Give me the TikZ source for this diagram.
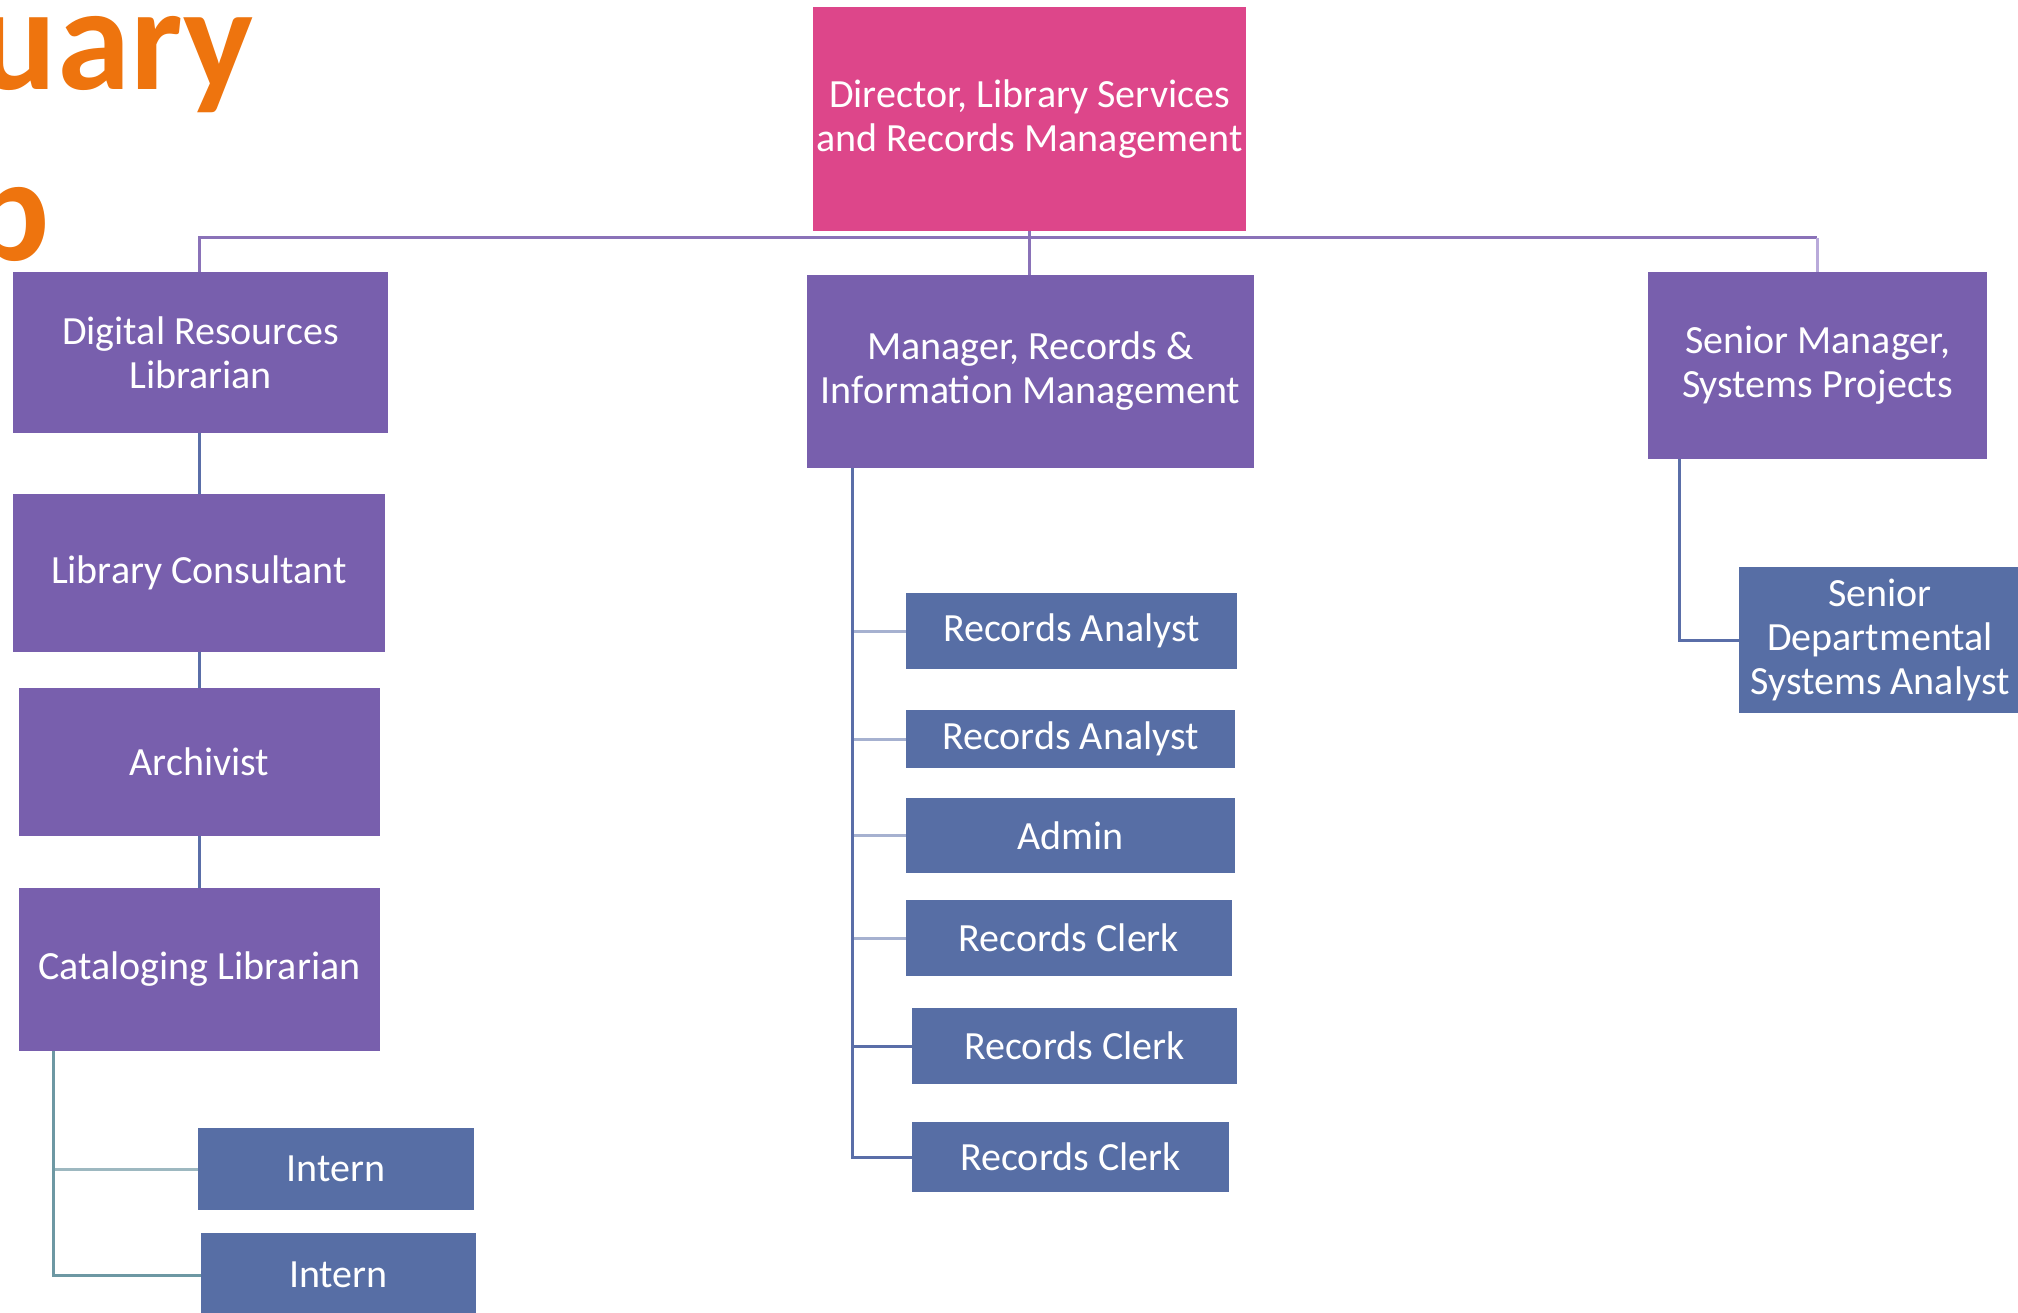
\documentclass[tikz,border=0pt]{standalone}
\usepackage{fontspec}
\setmainfont{Carlito}
\definecolor{pinkbox}{RGB}{221,70,138}
\definecolor{purplebox}{RGB}{120,95,173}
\definecolor{bluebox}{RGB}{87,110,165}
\definecolor{titleorange}{RGB}{238,116,14}
\definecolor{busline}{RGB}{138,114,184}
\definecolor{lightpurple}{RGB}{185,170,218}
\definecolor{blueline}{RGB}{90,110,168}
\definecolor{lightblue}{RGB}{166,177,208}
\definecolor{tealline}{RGB}{109,152,163}
\definecolor{lightteal}{RGB}{157,184,192}
\tikzset{
  boxbase/.style={inner sep=0pt, outer sep=0pt, text=white, align=center,
    font=\fontsize{40}{44}\selectfont},
  pinkstyle/.style={boxbase, fill=pinkbox},
  purplestyle/.style={boxbase, fill=purplebox},
  bluestyle/.style={boxbase, fill=bluebox},
  conn/.style={line width=3pt},
  titletext/.style={inner sep=0pt, text=titleorange, font=\fontsize{148}{150}\selectfont\bfseries}
}
\begin{document}
\begin{tikzpicture}[x=1pt,y=-1pt]
\useasboundingbox (0,0) rectangle (2018,1313);
\clip (0,0) rectangle (2018,1313);
\fill[white] (0,0) rectangle (2018,1313);

% title fragments
\node[titletext, anchor=base east] (t1) at (254,90) {uary};
\node[titletext, anchor=base east] (t2) at (50,261) {p};

% boxes
\node[pinkstyle, minimum width=433pt, minimum height=224pt] (dir) at (1029.5,119) {Director, Library Services\\and Records Management};

\node[purplestyle, minimum width=375pt, minimum height=161pt] (dig) at (200.5,352.5) {Digital Resources\\Librarian};
\node[purplestyle, minimum width=372pt, minimum height=158pt] (lib) at (199,573) {Library Consultant};
\node[purplestyle, minimum width=361pt, minimum height=148pt] (arc) at (199.5,762) {Archivist};
\node[purplestyle, minimum width=361pt, minimum height=163pt] (cat) at (199.5,969.5) {Cataloging Librarian};
\node[bluestyle, minimum width=276pt, minimum height=82pt] (int1) at (336,1169) {Intern};
\node[bluestyle, minimum width=275pt, minimum height=84pt] (int2) at (338.5,1275) {Intern};

\node[purplestyle, minimum width=447pt, minimum height=193pt] (mgr) at (1030.5,371.5) {Manager, Records \&\\Information Management};
\node[bluestyle, minimum width=331pt, minimum height=76pt] (ra1) at (1071.5,631) {Records Analyst};
\node[bluestyle, minimum width=329pt, minimum height=58pt] (ra2) at (1070.5,739) {Records Analyst};
\node[bluestyle, minimum width=329pt, minimum height=75pt] (adm) at (1070.5,835.5) {Admin};
\node[bluestyle, minimum width=326pt, minimum height=76pt] (clk1) at (1069,938) {Records Clerk};
\node[bluestyle, minimum width=325pt, minimum height=76pt] (clk2) at (1074.5,1046) {Records Clerk};
\node[bluestyle, minimum width=317pt, minimum height=70pt] (clk3) at (1070.5,1157) {Records Clerk};

\node[purplestyle, minimum width=339pt, minimum height=187pt] (smgr) at (1817.5,365.5) {Senior Manager,\\Systems Projects};
\node[bluestyle, minimum width=282pt, minimum height=146pt] (sda) at (1880,640) {Senior\\Departmental\\Systems Analyst};

% top bus
\coordinate (busL) at (199,238);
\coordinate (busR) at (1817,238);
\draw[conn, busline] (dig.north -| busL) -- (busL) -- (busR);
\draw[conn, lightpurple] (busR) -- (busR |- smgr.north);
\draw[conn, busline] (dir.south) -- (dir.south |- mgr.north);

% left column
\draw[conn, blueline] (dig.south -| busL) -- (lib.north -| busL);
\draw[conn, blueline] (lib.south -| busL) -- (arc.north -| busL);
\draw[conn, blueline] (arc.south -| busL) -- (cat.north -| busL);

% interns
\coordinate (catx) at ([xshift=34pt]cat.south west);
\draw[conn, lightteal] (catx |- int1.west) -- (int1.west);
\draw[conn, tealline] (catx) |- (int2.west);

% records team
\coordinate (mgrx) at ([xshift=45pt]mgr.south west);
\draw[conn, lightblue] (mgrx |- ra1.west) -- (ra1.west);
\draw[conn, lightblue] (mgrx |- ra2.west) -- (ra2.west);
\draw[conn, lightblue] (mgrx |- adm.west) -- (adm.west);
\draw[conn, lightblue] (mgrx |- clk1.west) -- (clk1.west);
\draw[conn, blueline] (mgrx |- clk2.west) -- (clk2.west);
\draw[conn, blueline] (mgrx) |- (clk3.west);

% systems
\coordinate (smgrx) at ([xshift=31pt]smgr.south west);
\draw[conn, blueline] (smgrx) |- (sda.west);
\end{tikzpicture}
\end{document}
